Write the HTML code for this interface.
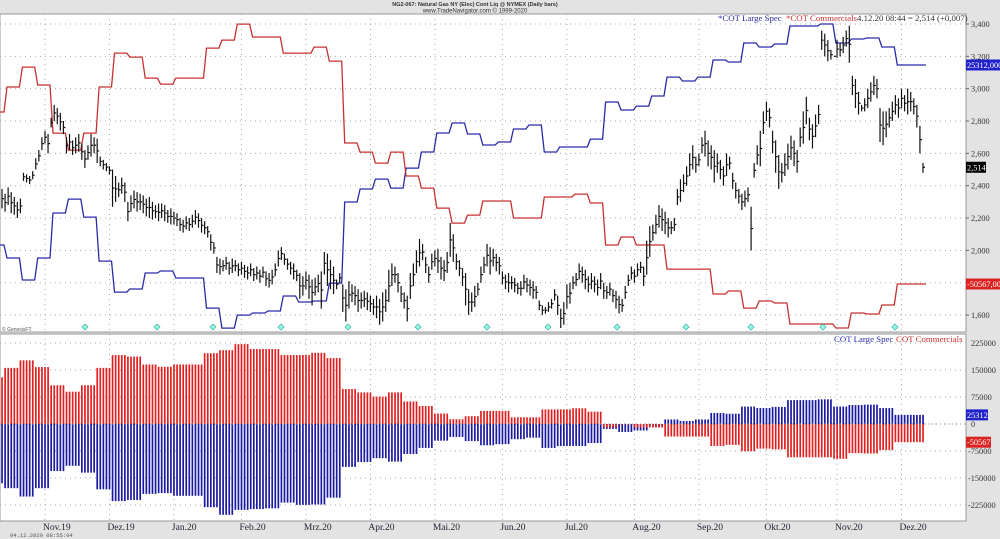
<!DOCTYPE html>
<html><head><meta charset="utf-8"><style>
html,body{margin:0;padding:0;background:#e3e3e3;}
svg{display:block;font-family:"Liberation Serif",serif;}
</style></head><body>
<svg id="chart" width="1000" height="539" viewBox="0 0 1000 539">
<rect x="0" y="0" width="1000" height="539" fill="#e3e3e3"/>
<rect x="0" y="14" width="966" height="318" fill="#fff" stroke="#999"/>
<rect x="0" y="334" width="966" height="187" fill="#fff" stroke="#999"/>
<text x="475" y="6" font-size="5.5" font-family="Liberation Sans,sans-serif" font-weight="bold" text-anchor="middle" fill="#333">NG2-067: Natural Gas NY (Elec) Cont Liq @ NYMEX (Daily bars)</text>
<text x="475" y="12.5" font-size="6" font-family="Liberation Sans,sans-serif" text-anchor="middle" fill="#333">www.TradeNavigator.com © 1999-2020</text>
<g id="grid"></g>
<g id="cotbars"></g>
<g id="lines"></g>
<g id="price"></g>
<g id="axes"></g>
<text x="718" y="21" font-size="8.8" fill="#2a2aa8">*COT Large Spec</text>
<text x="786" y="21" font-size="8.8" fill="#c83030">*COT Commercials</text>
<text x="857" y="21" font-size="8.8" fill="#333">4.12.20 08:44 = 2,514 (+0,007)</text>
<text x="834" y="342" font-size="8.8" fill="#2a2aa8">COT Large Spec</text>
<text x="896" y="342" font-size="8.8" fill="#c83030">COT Commercials</text>
<text x="2" y="331" font-size="5" font-family="Liberation Sans,sans-serif" fill="#555">© GenesisFT</text>
<text x="10" y="537" font-size="5.5" font-family="Liberation Mono,monospace" fill="#555">04.12.2020 08:55:04</text>
</svg>
<script>
const months=["Nov.19","Dez.19","Jan.20","Feb.20","Mrz.20","Apr.20","Mai.20","Jun.20","Jul.20","Aug.20","Sep.20","Okt.20","Nov.20","Dez.20"];
const monthDay=[14,35,56,78,99,120,141,163,184,206,227,249,272,293];
const priceTicks=[3400,3200,3000,2800,2600,2400,2200,2000,1800,1600];
const cotTicks=[225000,150000,75000,0,-75000,-150000,-225000];
const largeSpec=[-164.6,-178.3,-201.5,-178.3,-130.8,-116.1,-135.1,-181.5,-214.2,-211.0,-194.1,-192.0,-199.4,-199.4,-231.1,-252.2,-238.5,-236.3,-234.2,-218.4,-224.7,-223.6,-204.7,-119.2,-105.5,-95.0,-104.5,-83.4,-66.5,-46.4,-35.9,-47.5,-59.1,-55.9,-42.2,-38.0,-66.5,-61.2,-61.2,-52.8,-13.7,-22.2,-18.0,-7.4,12.6,8.4,12.6,30.6,28.5,48.5,44.3,47.5,66.4,66.4,68.6,48.5,52.7,53.8,44.3,25.3,25.312];
const commercials=[129.7,155.9,176.8,158.0,107.6,89.8,107.6,155.9,191.5,187.3,165.3,159.0,165.3,165.3,196.7,205.1,221.9,208.3,208.3,191.5,191.5,197.8,183.1,97.2,87.7,76.2,87.7,62.6,50.0,29.0,13.3,21.7,36.4,36.4,18.6,18.6,40.6,40.6,43.7,34.3,-9.7,-1.3,-9.7,-9.7,-34.9,-34.9,-34.9,-61.1,-57.9,-75.8,-68.4,-70.5,-92.5,-92.5,-92.5,-96.7,-81.0,-82.0,-72.6,-50.6,-50.567];
const highs=[2380,2350,2390,2360,2330,2300,2320, 2480,2470,2460,2490, 2570,2620,2700,2740,2720, 2820,2900,2880,2850,2800, 2700,2720,2680,2700,2720,2660, 2620,2650,2720,2700,2690, 2580,2560,2540,2520, 2500,2460,2420,2450,2420, 2300,2340,2370,2360,2350,2340,2320,2330,2300,2280,2290, 2290,2280,2250,2260,2240,2230, 2200,2190,2210,2200,2220,2250,2230,2200,2180,2150, 2100,2050, 1960,1950,1940,1960,1930,1950,1940,1920,1930,1910,1900,1920, 1890,1900,1880,1900,1870,1860, 1880,1920,2000,2020, 1980,1950,1930,1920,1880, 1860,1840,1870,1850,1820,1830,1850,1870, 1990,1980,1940,1900,1820,1860, 1790,1760,1810,1790,1780,1760,1740, 1750,1740,1720,1700,1720,1700,1740, 1760,1880,1920,1900,1860,1780,1740,1720, 1860,1920,2000,2070,2040,1960,1900, 1980,2000,2010,1960,1940,1990, 2170,2100, 1980,1940,1890,1860,1760,1740,1780, 1800,1900,1960,2040,2020, 2010,1980,1960, 1870,1850,1860,1840,1830,1800,1810,1850,1830,1820,1810,1780, 1690,1660,1650,1680,1700, 1760,1720,1640,1680,1790, 1800,1840,1860,1920,1900,1880,1840, 1860,1840,1820,1860,1800,1780,1800,1760, 1750,1720,1700, 1780,1850,1900,1880,1920,1930,1900, 2060,2150, 2160,2220,2280,2260,2240,2200,2180,2200, 2380,2440,2470, 2520,2600,2650,2580,2600, 2700,2740,2680,2650, 2620,2600,2560,2520,2600,2580, 2480,2420,2380,2350,2370,2390, 2270, 2540,2650,2740, 2860,2920,2880, 2740,2680,2590,2540, 2600,2660,2710,2680,2620, 2760,2860,2950,2820,2780,2840,2900, 3360,3340,3300,3240,3200, 3300,3280,3320,3360,3390, 3080,3060,2980,2900, 2940,3000,3040,3080,3060, 2880,2860, 2860,2880,2920,2960,2940, 3000,2960,3000,2980,2940,2900, 2770,2540];
const lows=[2260,2240,2280,2230,2220,2200,2230, 2430,2420,2410,2440, 2500,2550,2620,2660,2600, 2760,2800,2780,2740,2720, 2600,2620,2590,2600,2610,2560, 2510,2560,2580,2600,2540, 2520,2500,2490,2470, 2270,2300,2330,2350,2300, 2180,2240,2260,2240,2250,2230,2210,2200,2190,2200,2180, 2200,2180,2170,2160,2160,2150, 2120,2110,2130,2120,2140,2160,2140,2110,2100,2080, 2000,1980, 1860,1850,1870,1880,1850,1860,1870,1840,1850,1830,1820,1840, 1810,1820,1800,1830,1780,1770, 1790,1840,1900,1940, 1910,1880,1850,1820,1810, 1700,1720,1760,1700,1660,1720,1740,1640, 1850,1780,1760,1730,1760,1800, 1620,1560,1640,1680,1660,1620,1640, 1650,1630,1620,1600,1580,1540,1560, 1620,1680,1780,1800,1740,1680,1640,1560, 1700,1780,1860,1900,1940,1860,1800, 1880,1900,1860,1820,1810,1860, 1960,1930, 1880,1840,1780,1660,1600,1620,1650, 1720,1800,1860,1900,1850, 1900,1870,1850, 1790,1760,1740,1760,1740,1730,1720,1760,1740,1720,1700,1700, 1630,1600,1610,1620,1640, 1690,1600,1520,1540,1640, 1670,1760,1780,1820,1800,1760,1740, 1760,1740,1720,1760,1700,1700,1720,1680, 1640,1610,1620, 1700,1780,1820,1800,1840,1860,1780, 1850,1960, 2060,2100,2140,2120,2100,2080,2100,2120, 2280,2300,2360, 2400,2460,2500,2480,2520, 2600,2580,2520,2500, 2420,2480,2440,2400,2460,2500, 2380,2320,2290,2250,2270,2300, 2000, 2450,2530,2520, 2720,2800,2760, 2600,2480,2380,2420, 2460,2500,2560,2520,2480, 2640,2660,2780,2680,2630,2700,2780, 3240,3200,3170,3180,3200, 3190,3200,3220,3260,3160, 2960,2880,2840,2860, 2860,2880,2920,2960,2940, 2670,2650, 2700,2760,2800,2840,2820, 2880,2860,2840,2860,2840,2760, 2600,2480];
const lastPrice=2514;

const NS="http://www.w3.org/2000/svg";
function mk(tag,attrs,parent){const e=document.createElementNS(NS,tag);for(const k in attrs)e.setAttribute(k,attrs[k]);parent.appendChild(e);return e;}
const g=id=>document.getElementById(id);
const dayX=i=>2+i*3.07;
const weekStart=i=>i===0?0:4+(i-1)*15.35;
const weekOfDay=i=>Math.max(0,Math.min(largeSpec.length-1,Math.floor((dayX(i)-4)/15.35)+1));
const yP=p=>24+(3400-p)*0.1617;
const yB=v=>65-(v-25.312)*0.948;
const yR=v=>284-(v+50.567)*0.954;
const yC=v=>424-v*0.36;

const gr=g('grid');
priceTicks.forEach(p=>{const l=mk('line',{x1:0,x2:966,y1:yP(p),y2:yP(p),stroke:'#aaa','stroke-dasharray':'1,4','stroke-width':1},gr);

});
cotTicks.forEach(v=>{const l=mk('line',{x1:0,x2:966,y1:yC(v/1000),y2:yC(v/1000),stroke:'#aaa','stroke-dasharray':'1,4','stroke-width':1},gr);

});
monthDay.forEach((d,i)=>{const x=dayX(d);
const l=mk('line',{x1:x,x2:x,y1:14,y2:521,stroke:'#aaa','stroke-dasharray':'1,4','stroke-width':1},gr);


const t=mk('text',{x:x-2,y:530,'font-size':9.5,fill:'#223'},g('axes'));t.textContent=months[i];

});

const cb=g('cotbars');
for(let i=0;i<highs.length&&dayX(i)<927;i++){const w=weekOfDay(i);const x=dayX(i);
const b=mk('rect',{x:x-0.8,width:1.7,y:Math.min(yC(0),yC(largeSpec[w])),height:Math.abs(yC(largeSpec[w])-yC(0)),fill:'#1a1aa0'},cb);


const r=mk('rect',{x:x-0.8,width:1.7,y:Math.min(yC(0),yC(commercials[w])),height:Math.abs(yC(commercials[w])-yC(0)),fill:'#e02020'},cb);

}
mk('line',{x1:0,x2:966,y1:424,y2:424,stroke:'#999','stroke-dasharray':'1,3'},cb);

function stepPts(arr,yf){let pts=[];for(let i=0;i<arr.length;i++){const xs=weekStart(i),xe=i===arr.length-1?926:weekStart(i+1);pts.push([i===0?xs:xs+3,yf(arr[i])],[xe,yf(arr[i])]);}return pts.map(p=>p[0].toFixed(1)+','+p[1].toFixed(1)).join(' ');}
const bl=mk('polyline',{points:stepPts(largeSpec,yB),fill:'none',stroke:'#2a2aa8','stroke-width':1.3},g('lines'));


const rl=mk('polyline',{points:stepPts(commercials,yR),fill:'none',stroke:'#c83030','stroke-width':1.3},g('lines'));



const pg=g('price');const n=Math.min(highs.length,lows.length);
for(let i=0;i<n;i++){const x=dayX(i);const c=i===n-1?lastPrice:(highs[i]+lows[i])/2;
const b=mk('path',{d:`M${x},${yP(highs[i])}V${yP(lows[i])}M${x},${yP(c)}h2`,stroke:'#111','stroke-width':1.2,fill:'none'},pg);

}

[85,157,213,281,348,418,487,548,617,686,751,823,895].forEach(x=>{const d=mk('path',{d:`M${x},${324}l3,3l-3,3l-3,-3z`,fill:'#9fd',stroke:'#3aa','stroke-width':0.7},g('axes'));

});

const ax=g('axes');
priceTicks.forEach(p=>{const t=mk('text',{x:971,y:yP(p)+3,'font-size':8.3,fill:'#333'},ax);t.textContent=p.toLocaleString('en-US');


mk('line',{x1:966,x2:969,y1:yP(p),y2:yP(p),stroke:'#666'},ax);});
cotTicks.forEach(v=>{const t=mk('text',{x:v<0?968:971,y:yC(v/1000)+3,'font-size':8.3,fill:'#333'},ax);t.textContent=String(v);

});
function tag(y,txt,bg,name,w){const r=mk('rect',{x:966,y:y-5.5,width:w,height:11,fill:bg},ax);


const t=mk('text',{x:967,y:y+3,'font-size':8.3,fill:'#fff'},ax);t.textContent=txt;}
tag(yB(largeSpec[largeSpec.length-1]),'25312,000','#2222cc','large-spec-value-tag',34);
tag(yP(lastPrice),'2,514','#000','last-price-tag',20);
tag(yR(commercials[commercials.length-1]),'-50567,000','#dd2222','commercials-value-tag',34);
tag(yC(largeSpec[largeSpec.length-1]),'25312','#2222cc','lower-large-spec-tag',22);
tag(yC(commercials[commercials.length-1]),'-50567','#dd2222','lower-commercials-tag',25);
</script>
</body></html>
